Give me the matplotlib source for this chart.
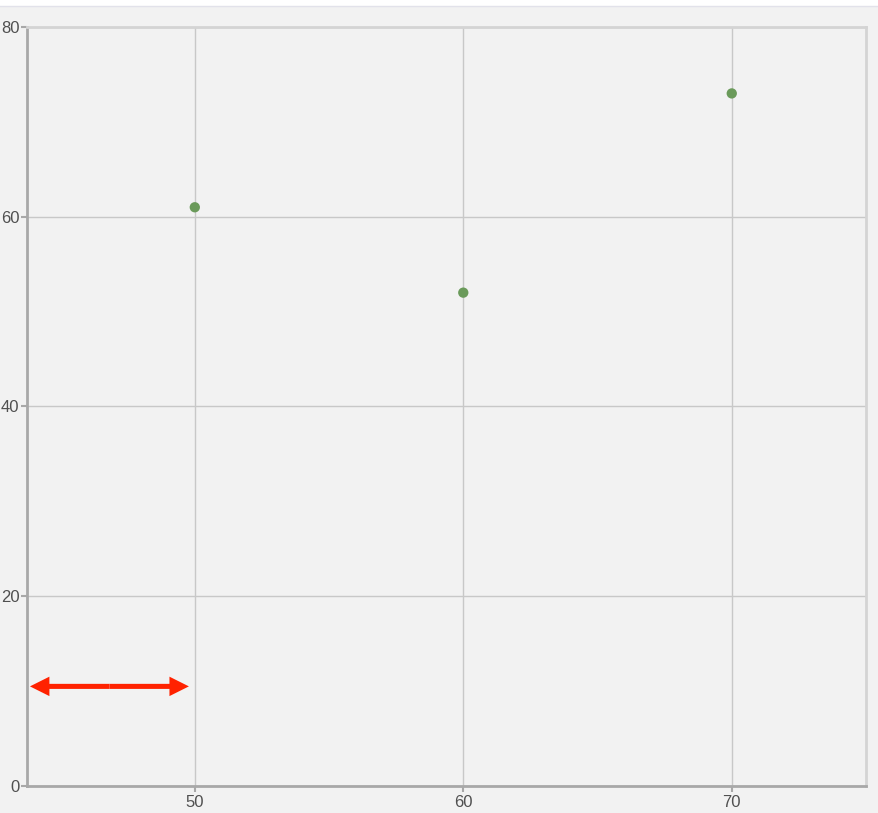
import matplotlib
matplotlib.use("Agg")
import matplotlib.pyplot as plt
from matplotlib.patches import FancyArrowPatch, Rectangle

plt.rcParams["font.family"] = ["Liberation Sans", "DejaVu Sans"]

# Data
x_vals = [50, 60, 70]
y_vals = [61, 52, 73]
x_ticks = [50, 60, 70]
y_ticks = [0, 20, 40, 60, 80]
arrow_start = (43.86, 10.5)
arrow_end = (49.78, 10.5)

W, H = 879, 813
fig = plt.figure(figsize=(W / 100, H / 100), dpi=100, facecolor="#f2f2f2")

# white strip at top
fig.patches.append(Rectangle((0, (H - 6) / H), 1, 6 / H, transform=fig.transFigure,
                             facecolor="white", edgecolor="none", zorder=0))
fig.add_artist(plt.Line2D([0, 1], [(H - 6.5) / H] * 2, transform=fig.transFigure,
                          color="#e2e2ea", lw=1))

left, right = 27 / W, 866 / W
bottom, top = (H - 786) / H, (H - 27) / H
ax = fig.add_axes([left, bottom, right - left, top - bottom])
ax.set_facecolor("#f2f2f2")
ax.set_xlim(43.75, 75)
ax.set_ylim(0, 80)
ax.set_xticks(x_ticks)
ax.set_yticks(y_ticks)
ax.grid(True, color="#c8c8c8", lw=1)
ax.set_axisbelow(True)

for s in ["left", "bottom"]:
    ax.spines[s].set_color("#a8a8a8")
    ax.spines[s].set_linewidth(2)
for s in ["top", "right"]:
    ax.spines[s].set_color("#d4d4d4")
    ax.spines[s].set_linewidth(2)

ax.tick_params(axis="both", colors="#a8a8a8", labelcolor="#505050", labelsize=12,
               length=4.5, width=1.5)
ax.tick_params(axis="y", pad=1)
ax.tick_params(axis="x", pad=2)

ax.scatter(x_vals, y_vals, s=55, color="#6a9a5a", zorder=3, edgecolors="none")

# double-headed arrow drawn as two filled arrows from the midpoint outward
mid = ((arrow_start[0] + arrow_end[0]) / 2, (arrow_start[1] + arrow_end[1]) / 2)
for tip in (arrow_start, arrow_end):
    arr = FancyArrowPatch(mid, tip,
                          arrowstyle="simple,head_length=1.0,head_width=1.0,tail_width=0.26",
                          mutation_scale=14, facecolor="#ff2200", edgecolor="none",
                          lw=0, zorder=4, shrinkA=0, shrinkB=0)
    ax.add_patch(arr)

fig.savefig("out.png", dpi=100, facecolor=fig.get_facecolor())
